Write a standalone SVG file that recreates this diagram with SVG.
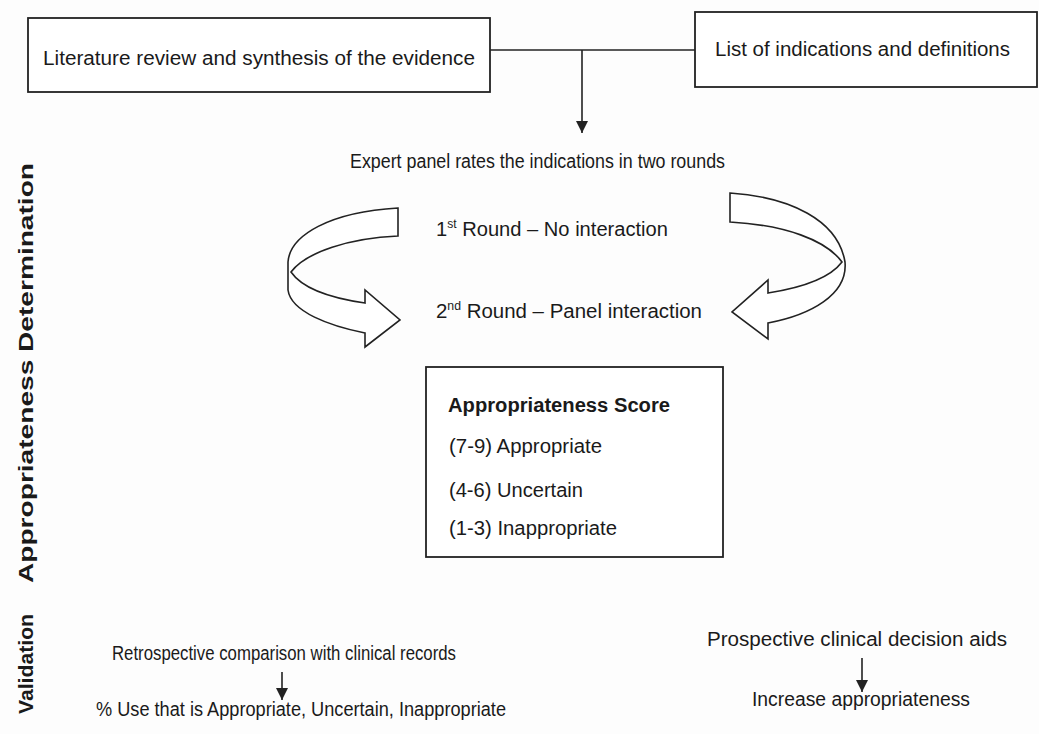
<svg xmlns="http://www.w3.org/2000/svg" width="1039" height="734" viewBox="0 0 1039 734">
<defs>
<style>
.t{font-family:"Liberation Sans",Arial,Helvetica,sans-serif;font-size:20px;fill:#1a1a1a}
.b{font-weight:bold}
.box{fill:#fff;stroke:#222;stroke-width:1.8}
.ln{fill:none;stroke:#222;stroke-width:1.6}
.rib{fill:#fff;stroke:#222;stroke-width:1.6;stroke-linejoin:miter}
</style>
<marker id="ah" markerWidth="12" markerHeight="12" refX="10" refY="5" orient="auto" markerUnits="userSpaceOnUse" viewBox="0 0 10 10">
<path d="M0,0 L10,5 L0,10 Z" fill="#222"/>
</marker>
</defs>
<rect width="1039" height="734" fill="#fdfdfd"/>

<g id="connectors">
<line class="ln" x1="490" y1="50" x2="695" y2="50"/>
<line class="ln" x1="582" y1="50" x2="582" y2="133" marker-end="url(#ah)"/>
<line class="ln" x1="282" y1="672" x2="282" y2="700" marker-end="url(#ah)"/>
<line class="ln" x1="862" y1="658" x2="862" y2="692" marker-end="url(#ah)"/>
</g>

<g id="label-determination">
<text class="t b" font-size="17" transform="translate(33,373) rotate(-90)" text-anchor="middle" textLength="420" lengthAdjust="spacingAndGlyphs">Appropriateness Determination</text>
</g>
<g id="label-validation">
<text class="t b" font-size="17" transform="translate(33,664) rotate(-90)" text-anchor="middle" textLength="100" lengthAdjust="spacingAndGlyphs">Validation</text>
</g>

<g id="node-literature">
<rect class="box" x="28" y="18" width="462" height="74"/>
<text class="t" x="43" y="65" font-size="21" textLength="432" lengthAdjust="spacingAndGlyphs">Literature review and synthesis of the evidence</text>
</g>

<g id="node-indications">
<rect class="box" x="695" y="12" width="342" height="75"/>
<text class="t" x="715" y="56" font-size="21" textLength="295" lengthAdjust="spacingAndGlyphs">List of indications and definitions</text>
</g>

<g id="node-expert">
<text class="t" x="350" y="168" textLength="375" lengthAdjust="spacingAndGlyphs">Expert panel rates the indications in two rounds</text>
</g>

<g id="node-round1">
<text class="t" x="436" y="236" textLength="232" lengthAdjust="spacingAndGlyphs">1<tspan font-size="12" dy="-8">st</tspan><tspan dy="8"> Round – No interaction</tspan></text>
</g>

<g id="node-round2">
<text class="t" x="436" y="318" textLength="266" lengthAdjust="spacingAndGlyphs">2<tspan font-size="12" dy="-8">nd</tspan><tspan dy="8"> Round – Panel interaction</tspan></text>
</g>

<g id="arrow-left">
<path class="rib" d="M398,208 L398,236 C350,238 306,252 291,272 C302,288 330,298 365,303 L365,290 L400,320 L365,347 L365,333 C330,326 291,312 288,290 L288,262 C290,235 330,212 398,208 Z"/>
</g>

<g id="arrow-right">
<path class="rib" d="M730,193 L730,222 C785,225 826,240 842,262 C830,278 800,288 768,293 L768,280 L732,312 L768,339 L768,323 C810,315 848,295 845,262 C838,220 790,197 730,193 Z"/>
</g>

<g id="node-score">
<rect class="box" x="426" y="367" width="297" height="190"/>
<text class="t b" x="448" y="412" textLength="222" lengthAdjust="spacingAndGlyphs">Appropriateness Score</text>
<text class="t" x="449" y="453" textLength="153" lengthAdjust="spacingAndGlyphs">(7-9) Appropriate</text>
<text class="t" x="449" y="497" textLength="134" lengthAdjust="spacingAndGlyphs">(4-6) Uncertain</text>
<text class="t" x="449" y="535" textLength="168" lengthAdjust="spacingAndGlyphs">(1-3) Inappropriate</text>
</g>

<g id="node-retrospective">
<text class="t" x="112" y="660" font-size="19" textLength="344" lengthAdjust="spacingAndGlyphs">Retrospective comparison with clinical records</text>
</g>
<g id="node-use">
<text class="t" x="96" y="716" textLength="410" lengthAdjust="spacingAndGlyphs">% Use that is Appropriate, Uncertain, Inappropriate</text>
</g>
<g id="node-prospective">
<text class="t" x="707" y="646" textLength="300" lengthAdjust="spacingAndGlyphs">Prospective clinical decision aids</text>
</g>
<g id="node-increase">
<text class="t" x="752" y="706" textLength="218" lengthAdjust="spacingAndGlyphs">Increase appropriateness</text>
</g>
</svg>
